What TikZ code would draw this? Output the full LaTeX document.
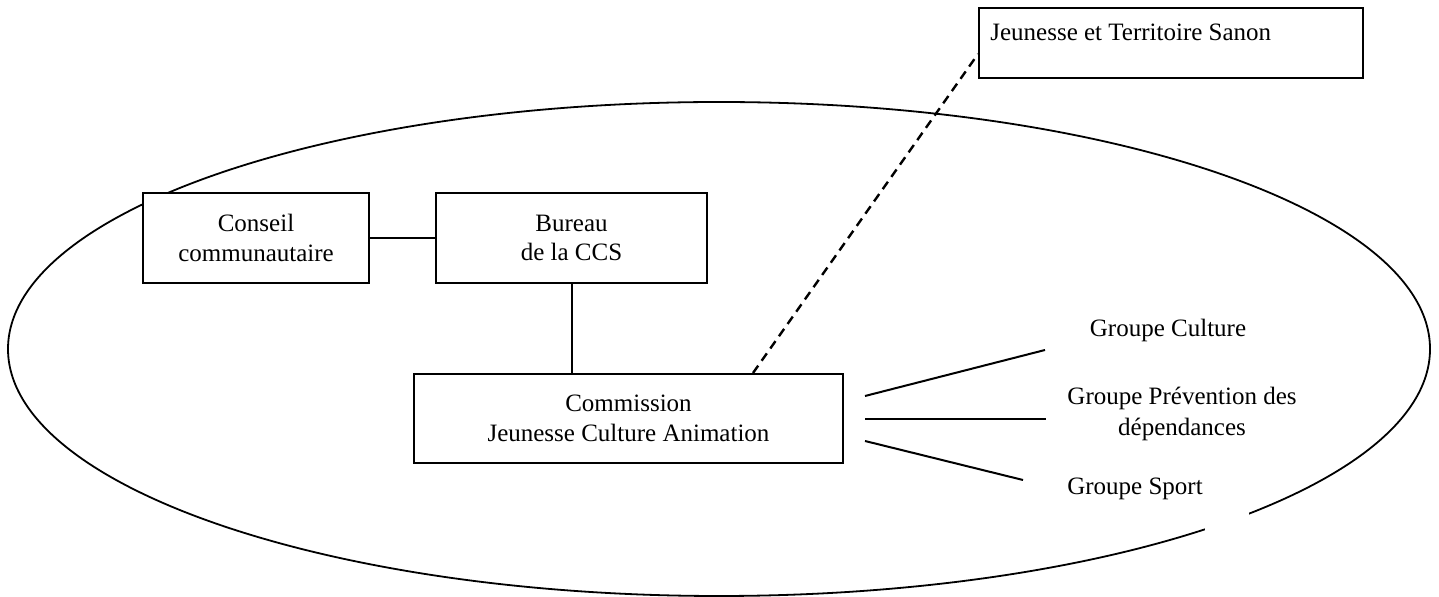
\documentclass[tikz,border=0pt]{standalone}
\usepackage{fontspec}
\setmainfont{Liberation Serif}
\begin{document}
\begin{tikzpicture}[x=0.5pt,y=-0.5pt,
  txt/.style={font=\fontsize{12.5}{14.75}\selectfont, inner sep=0pt},
  box/.style={draw, line width=1pt, fill=white, align=center, inner sep=0pt,
    font=\fontsize{12.5}{14.75}\selectfont},
  link/.style={line width=1pt},
  dashlink/.style={line width=1.2pt, dash pattern=on 4.5pt off 3pt}]
\useasboundingbox (0,0) rectangle (1439,597);
% enclosing ellipse
\draw[line width=0.9pt] (719,349) ellipse [x radius=355.5pt, y radius=123.5pt];
\fill[white] (1205,508) rectangle (1249,540);
% boxes
\node[box, minimum width=113pt, minimum height=45pt] (con) at (256,238) {Conseil\\communautaire};
\node[box, minimum width=135.5pt, minimum height=45pt] (bur) at (571.5,238) {Bureau\\de la CCS};
\node[box, minimum width=214.5pt, minimum height=44.5pt] (com) at (628.5,418.5) {Commission\\Jeunesse Culture Animation};
\node[box, minimum width=192pt, minimum height=35pt, anchor=north west] (jts) at (978,7) {};
\node[txt, anchor=base west] (jtstxt) at (990,41) {Jeunesse et Territoire Sanon};
% group labels
\node[txt, anchor=base] (gcul) at (1168,337) {Groupe Culture};
\node[txt, align=center, anchor=center] (gprev) at (1182,414) {Groupe Prévention des\\[1pt]dépendances};
\node[txt, anchor=base] (gspo) at (1135,495) {Groupe Sport};
% connectors
\draw[link] (con.east) -- (bur.west);
\draw[link] (bur.south) -- (bur.south |- com.north);
\draw[dashlink] ([xshift=62.25pt]com.north) -- ([yshift=-5.5pt]jts.west);
\coordinate (g1a) at (865,396); \coordinate (g1b) at (1045,350);
\coordinate (g2a) at (865,419); \coordinate (g2b) at (1046,419);
\coordinate (g3a) at (865,441); \coordinate (g3b) at (1023,480);
\draw[link] (g1a) -- (g1b);
\draw[link] (g2a) -- (g2b);
\draw[link] (g3a) -- (g3b);
\end{tikzpicture}
\end{document}
